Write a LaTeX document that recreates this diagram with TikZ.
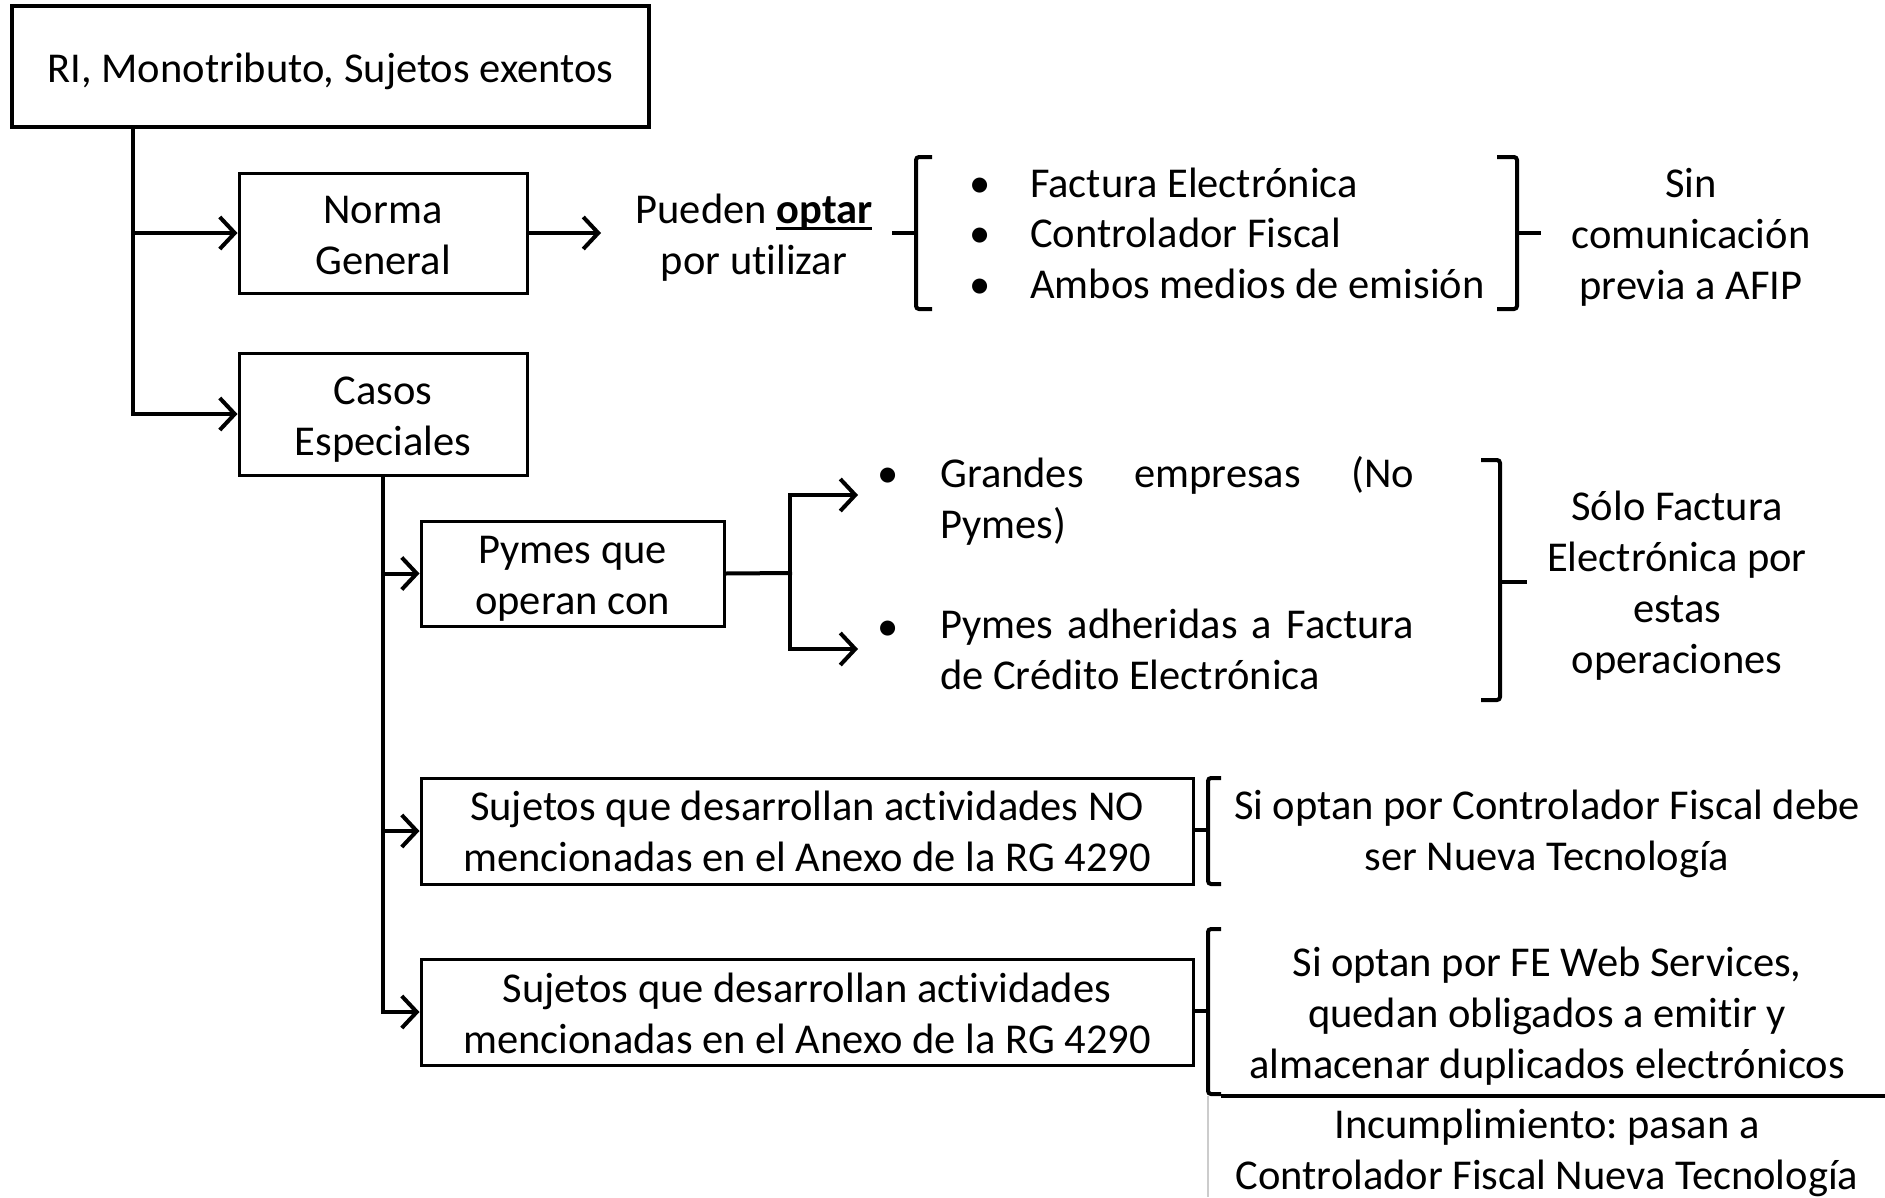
\documentclass[tikz,border=0pt]{standalone}
\usepackage{fontspec}
\setmainfont[Ligatures=NoCommon]{Carlito}
\usetikzlibrary{arrows.meta}
\newcommand\fs{\fontsize{42.5}{51}\selectfont\frenchspacing}
\newcommand\thickul[1]{\setbox0\hbox{#1}\rlap{\rule[-6pt]{\wd0}{3pt}}\box0}
\newcommand\dropby[2]{\raisebox{-#1}[\height][\depth]{#2}}
\begin{document}
\begin{tikzpicture}[x=1pt,y=-1pt,
  box/.style={draw, line width=3pt, inner sep=0pt, align=center, font=\fs},
  txt/.style={inner sep=0pt, align=center, font=\fs},
  item/.style={inner sep=0pt, anchor=west, font=\fs, text height=29pt, text depth=10pt},
  conn/.style={line width=4pt},
  arr/.style={conn, -{Straight Barb[length=15pt,width=32pt]}},
  brk/.style={line width=4pt, rounded corners=3pt}]
\useasboundingbox (0,0) rectangle (1885,1197);
% boxes
\node[box, line width=4.5pt, minimum width=637pt, minimum height=121pt] (top) at (330.5,66.5) {\dropby{5pt}{RI, Monotributo, Sujetos exentos}};
\node[box, minimum width=288pt, minimum height=120pt] (norma) at (383,233) {\dropby{3pt}{\parbox{280pt}{\centering Norma\\General}}};
\node[box, minimum width=288pt, minimum height=122pt] (casos) at (383,414) {\dropby{6pt}{\parbox{280pt}{\centering Casos\\Especiales}}};
\node[box, minimum width=303pt, minimum height=105pt] (pymes) at (572.5,573.5) {\dropby{5pt}{\parbox{295pt}{\centering Pymes que\\operan con}}};
\node[box, minimum width=772pt, minimum height=106pt] (no) at (807,831) {\parbox{765pt}{\centering Sujetos que desarrollan actividades NO\\mencionadas en el Anexo de la RG 4290}};
\node[box, minimum width=772pt, minimum height=106pt] (men) at (807,1012) {\dropby{1pt}{\parbox{765pt}{\centering Sujetos que desarrollan actividades\\mencionadas en el Anexo de la RG 4290}}};
% texts
\node[txt] (pueden) at (754,238) {Pueden \thickul{\textbf{optar}}\\por utilizar};
\node[item] (b1) at (969,188) {•};
\node[item] (b2) at (969,238) {•};
\node[item] (b3) at (969,289) {•};
\node[item] (i1) at (1030,188) {Factura Electrónica};
\node[item] (i2) at (1030,238) {Controlador Fiscal};
\node[item] (i3) at (1030,289) {Ambos medios de emisión};
\node[txt] (sin) at (1691,237) {Sin\\comunicación\\previa a AFIP};
\node[item] (b4) at (877,478) {•};
\node[item] (b5) at (877,631) {•};
\node[txt, align=left, anchor=north west] (g1) at (940,456) {\makebox[474pt][s]{Grandes empresas (No}\\Pymes)};
\node[txt, align=left, anchor=north west] (g2) at (940,609) {\makebox[474pt][s]{Pymes adheridas a Factura}\\de Crédito Electrónica};
\node[txt] (solo) at (1677,586) {Sólo Factura\\Electrónica por\\estas\\operaciones};
\node[txt] (si1) at (1547,834) {Si optan por Controlador Fiscal debe\\ser Nueva Tecnología};
\node[txt] (si2) at (1547,1016) {Si optan por FE Web Services,\\quedan obligados a emitir y\\almacenar duplicados electrónicos};
\node[txt] (inc) at (1547,1153) {Incumplimiento: pasan a\\Controlador Fiscal Nueva Tecnología};
% coordinates
\coordinate (trunk) at (133,0);
\coordinate (pa) at (601,233);
\coordinate (jn) at (790,573);
\coordinate (a1) at (858,495);
\coordinate (a2) at (858,649);
% connectors
\draw[arr] (top.south -| trunk) |- (casos.west);
\draw[arr] (trunk |- norma.west) -- (norma.west);
\draw[arr] (norma.east) -- (pa);
\draw[arr] (casos.south) |- (men.west);
\draw[arr] (casos.south |- pymes.west) -- (pymes.west);
\draw[arr] (casos.south |- no.west) -- (no.west);
\draw[conn] (pymes.east) -- ([xshift=2pt]jn);
\draw[arr] (jn) |- (a1);
\draw[arr] (jn) |- (a2);
% brackets
\draw[brk] (932,157) -- (916,157) -- (916,309) -- (932,309);
\draw[conn] (916,233) -- (892,233);
\draw[brk] (1497,157) -- (1517,157) -- (1517,309) -- (1497,309);
\draw[conn] (1517,233) -- (1541,233);
\draw[brk] (1481,460) -- (1500,460) -- (1500,700) -- (1481,700);
\draw[conn] (1500,582) -- (1527,582);
\draw[brk] (1221,778) -- (1208,778) -- (1208,884) -- (1221,884);
\draw[conn] (1208,830) -- (1193,830);
\draw[brk] (1221,929) -- (1208,929) -- (1208,1094) -- (1221,1094);
\draw[conn] (1208,1011) -- (1193,1011);
\draw[conn] (1221,1096) -- (1885,1096);
\draw[gray!40, line width=1.5pt] (1208,1096) -- (1208,1197);
\end{tikzpicture}
\end{document}
